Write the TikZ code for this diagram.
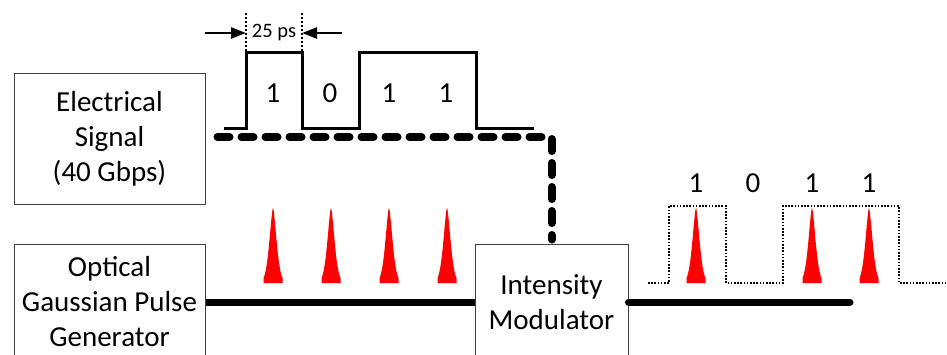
\documentclass[tikz,border=0pt]{standalone}
\usepackage{fontspec}
\setmainfont{Carlito}
\usetikzlibrary{arrows.meta, calc, positioning}
\definecolor{PRed}{HTML}{FF0000}
\definecolor{DGray}{HTML}{404040}

\tikzset{
  block/.style={draw=DGray, line width=1pt, align=center, inner sep=0pt,
    font=\fontsize{29}{35}\selectfont},
  bit/.style={font=\fontsize{29}{35}\selectfont, inner sep=0pt},
  sig/.style={line width=3pt, line join=miter},
  fiber/.style={line width=7pt},
  ctrl/.style={line width=8pt, line cap=round, dash pattern=on 12pt off 12pt},
  outsig/.style={line width=1.3pt, dash pattern=on 1.6pt off 1.6pt},
  guide/.style={line width=1.3pt, dash pattern=on 2pt off 2pt},
  dimarrow/.style={line width=2.5pt, -{Triangle[length=15pt, width=11pt]}}
}

\begin{document}
\begin{tikzpicture}[x=1pt, y=-1pt]
  \useasboundingbox (0,0) rectangle (947,354);
  \clip (0,0) rectangle (947,354);
  % Blocks
  \node[block, minimum width=191, minimum height=131] (elec) at (109.5,138.5)
    {Electrical\\Signal\\(40 Gbps)};
  \node[block, minimum width=191, minimum height=116] (optgen) at (109.5,302)
    {Optical\\Gaussian Pulse\\Generator};
  \node[block, minimum width=153, minimum height=116] (mod) at (551.5,302)
    {Intensity\\Modulator};
  \coordinate (outEnd) at (850,302);
  % Links
  \draw[fiber] (optgen.east) -- (mod.west);
  \draw[fiber, line cap=round] (mod.east) -- (outEnd);
  \draw[ctrl, shorten >=4pt] ($(elec.east)+(12,-1.5)$) -| (mod.north);
  % Electrical data 1011
  \draw[sig] (224,128) -- (246,128) -- (246,52) -- (302,52) -- (302,128)
    -- (359,128) -- (359,52) -- (476,52) -- (476,128) -- (534,128);
  \foreach \x/\b [count=\i] in {273/1,330/0,389/1,446/1}
    \node[bit] (tb\i) at (\x,93) {\b};
  % Bit period
  \coordinate (pA) at (246,33);
  \coordinate (pB) at (302,33);
  \draw[guide] (246,13) -- (246,52);
  \draw[guide] (302,13) -- (302,52);
  \node[font=\fontsize{20.5}{24}\selectfont, inner sep=0pt] (per) at (274,32) {25 ps};
  \draw[dimarrow] (205,33) -- (pA);
  \draw[dimarrow] (342,33) -- (pB);
  % Optical pulses
  \foreach \p in {273,331,389,447,696,812,869}
    \fill[PRed] (\p-9.5,283) -- plot[domain=-9.5:9.5, samples=51, smooth]
      ({\p+\x},{283-75*exp(-abs(\x)^1.6/(2*3.3^1.6))}) -- (\p+9.5,283) -- cycle;
  % Modulated output
  \draw[outsig] (648,283) -- (669,283) -- (669,206) -- (726,206) -- (726,283)
    -- (783,283) -- (783,206) -- (899,206) -- (899,283) -- (947,283);
  \foreach \x/\b [count=\i] in {696/1,753/0,812/1,869/1}
    \node[bit] (ob\i) at (\x,183) {\b};
\end{tikzpicture}
\end{document}
